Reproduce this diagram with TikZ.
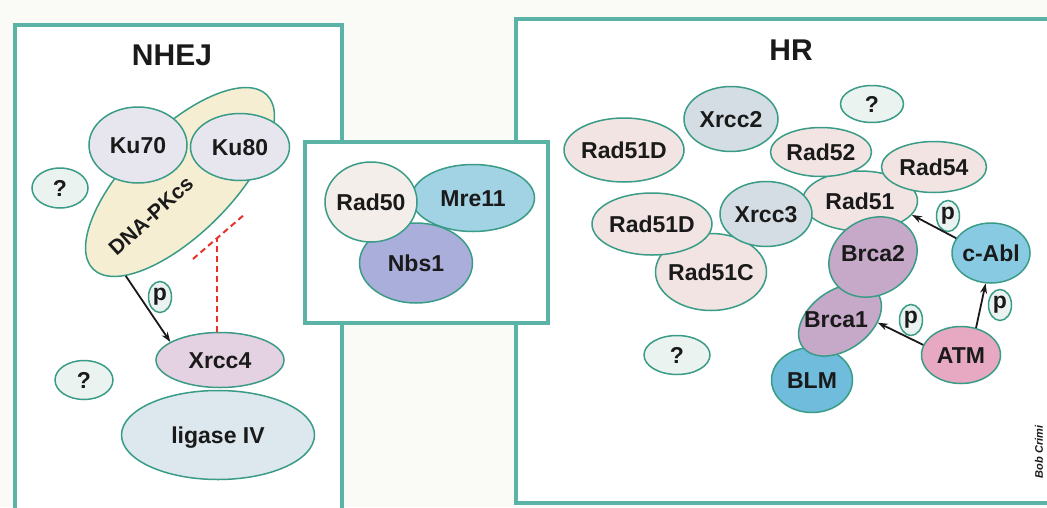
\documentclass[tikz,border=0pt]{standalone}
\usepackage{fontspec}
\setmainfont{Liberation Sans}
\usetikzlibrary{shapes.geometric,arrows.meta}
\definecolor{bg}{HTML}{FAFAF7}
\definecolor{edge}{HTML}{3A9C86}
\definecolor{boxc}{HTML}{5BB3A6}
\definecolor{kuc}{HTML}{E7E6EF}
\definecolor{qc}{HTML}{EBF3F1}
\definecolor{dnapkc}{HTML}{F5EED2}
\definecolor{xrccfour}{HTML}{E4D2E2}
\definecolor{ligc}{HTML}{DCE7EE}
\definecolor{radfifty}{HTML}{F4EEEA}
\definecolor{mrec}{HTML}{A2D3E4}
\definecolor{nbsc}{HTML}{A9AEDB}
\definecolor{pinkc}{HTML}{F1E4E3}
\definecolor{xrccc}{HTML}{D4DDE4}
\definecolor{brcac}{HTML}{C6A8C8}
\definecolor{blmc}{HTML}{6FBCDC}
\definecolor{atmc}{HTML}{E6A9C1}
\definecolor{cablc}{HTML}{87CAE2}
\definecolor{txt}{HTML}{1A1A1A}
\definecolor{blockred}{HTML}{E8302A}
\newcommand\lab[1]{\makebox[0pt]{#1}}
\begin{document}
\begin{tikzpicture}[x=1pt,y=-1pt,
  prot/.style={ellipse,draw=edge,line width=1.5pt,inner sep=0pt,text=txt,
    font=\fontsize{23}{23}\selectfont\bfseries,text height=16.5pt,text depth=0pt},
  qnode/.style={prot,fill=qc},
  pnode/.style={ellipse,draw=edge,line width=1.5pt,fill=qc,inner sep=0pt,text=txt,
    minimum width=23pt,minimum height=31pt,font=\fontsize{23}{23}\selectfont\bfseries},
  panel/.style={draw=boxc,line width=4pt},
  title/.style={font=\fontsize{30}{30}\selectfont\bfseries,text=txt},
  arr/.style={-{Stealth[length=10pt,width=7pt]},line width=1.8pt,draw=txt},
  blockline/.style={draw=blockred,line width=2pt,dash pattern=on 6pt off 4pt}
]
\useasboundingbox (0,0) rectangle (1047,507);
\fill[bg] (0,0) rectangle (1047,507);

% panels
\draw[panel,fill=white] (15,510) -- (15,25) -- (342,25) -- (342,510);
\draw[panel,fill=white] (1060,503) -- (516,503) -- (516,19) -- (1060,19);

% ---------- NHEJ ----------
\node[title] (nhej) at (172,55) {NHEJ};
\node[prot,fill=dnapkc,minimum width=246pt,minimum height=104pt,rotate=45] (dnapk) at (180,182) {};
\node[font=\fontsize{21}{21}\selectfont\bfseries,text=txt,rotate=42] (dnapklab) at (151,216) {DNA-PKcs};
\node[prot,fill=kuc,minimum width=98pt,minimum height=76pt] (ku70) at (138,145) {\lab{Ku70}};
\node[prot,fill=kuc,minimum width=99pt,minimum height=67pt] (ku80) at (240,147) {\lab{Ku80}};
\node[qnode,minimum width=56pt,minimum height=40pt] (q1) at (60,188) {\lab{?}};
\node[prot,fill=ligc,minimum width=193pt,minimum height=89pt] (lig) at (218,435) {\lab{ligase IV}};
\node[prot,fill=xrccfour,minimum width=128pt,minimum height=55pt] (xrcc4) at (220,360) {\lab{Xrcc4}};
\node[qnode,minimum width=58pt,minimum height=39pt] (q2) at (84,380) {\lab{?}};
\node[pnode] (p1) at (160,297) {p};
\draw[arr] (dnapk.195) -- (xrcc4.160);
\coordinate (blk) at (217,238);
\coordinate (blkA) at (193,259);
\coordinate (blkB) at (245,214);
\draw[blockline] (xrcc4.north -| blk) -- (blk);
\draw[blockline] (blkA) -- (blkB);

% ---------- MRN ----------
\draw[panel,fill=white] (305,142) rectangle (548,323);
\node[prot,fill=nbsc,minimum width=113pt,minimum height=80pt] (nbs1) at (416,263) {\lab{Nbs1}};
\node[prot,fill=mrec,minimum width=123pt,minimum height=67pt] (mre11) at (473,198) {\lab{Mre11}};
\node[prot,fill=radfifty,minimum width=92pt,minimum height=80pt] (rad50) at (371,202) {\lab{Rad50}};

% ---------- HR ----------
\node[title] (hr) at (791,50) {HR};
\node[qnode,minimum width=63pt,minimum height=37pt] (q3) at (872,104) {\lab{?}};
\node[prot,fill=xrccc,minimum width=94pt,minimum height=65pt] (xrcc2) at (731,119) {\lab{Xrcc2}};
\node[prot,fill=pinkc,minimum width=120pt,minimum height=64pt] (rad51da) at (624,150) {\lab{Rad51D}};
\node[prot,fill=pinkc,minimum width=111pt,minimum height=77pt] (rad51c) at (711,272) {\lab{Rad51C}};
\node[prot,fill=pinkc,minimum width=120pt,minimum height=62pt] (rad51db) at (652,224) {\lab{Rad51D}};
\node[prot,fill=pinkc,minimum width=115pt,minimum height=60pt] (rad51) at (860,201) {\lab{Rad51}};
\node[prot,fill=pinkc,minimum width=101pt,minimum height=49pt] (rad52) at (821,152) {\lab{Rad52}};
\node[prot,fill=pinkc,minimum width=105pt,minimum height=51pt] (rad54) at (934,167) {\lab{Rad54}};
\node[prot,fill=xrccc,minimum width=92pt,minimum height=65pt] (xrcc3) at (766,214) {\lab{Xrcc3}};
\node[prot,fill=blmc,minimum width=81pt,minimum height=65pt] (blm) at (812,380) {\lab{BLM}};
\node[prot,fill=brcac,minimum width=92pt,minimum height=60pt,rotate=35] (brca1) at (840,320) {};
\node[font=\fontsize{23}{23}\selectfont\bfseries,text=txt] (brca1lab) at (836,320) {Brca1};
\node[prot,fill=brcac,minimum width=92pt,minimum height=76pt,rotate=30] (brca2) at (873,257) {};
\node[font=\fontsize{23}{23}\selectfont\bfseries,text=txt] (brca2lab) at (873,254) {Brca2};
\node[prot,fill=atmc,minimum width=79pt,minimum height=57pt] (atm) at (961,355) {\lab{ATM}};
\node[prot,fill=cablc,minimum width=78pt,minimum height=60pt] (cabl) at (991,253) {\lab{c-Abl}};
\node[qnode,minimum width=66pt,minimum height=39pt] (q4) at (677,355) {\lab{?}};
\node[pnode] (p2) at (948,216) {p};
\node[pnode] (p3) at (911,320) {p};
\node[pnode] (p4) at (1000,305) {p};
\draw[arr] (cabl.157) -- (rad51.-15);
\draw[arr] (atm.165) -- (brca1.-39);
\draw[arr] (atm.61) -- (cabl.-100);

\node[font=\fontsize{11}{11}\selectfont\bfseries\itshape,text=txt,rotate=90] (credit) at (1039,452) {Bob Crimi};
\end{tikzpicture}
\end{document}
